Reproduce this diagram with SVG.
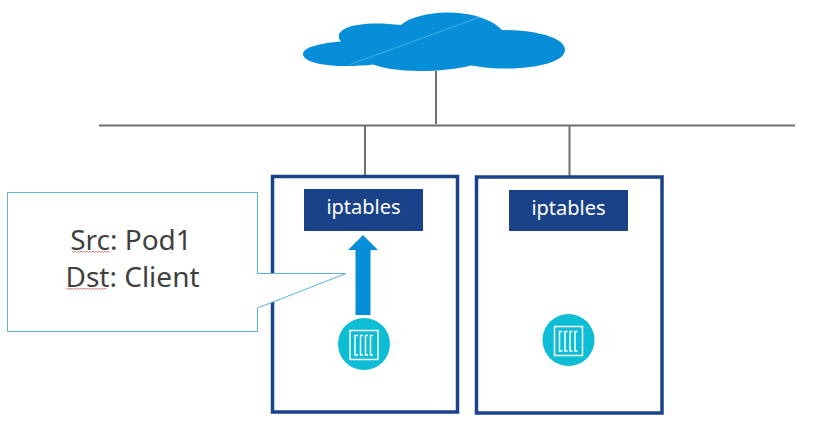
<svg xmlns="http://www.w3.org/2000/svg" width="828" height="429" viewBox="0 0 828 429">
<style>
.wire{stroke:#6f6f6f;stroke-width:2;fill:none}
.frame{fill:#fff;stroke:#1a4288;stroke-width:3.500}
.bar{fill:#1a4288}
.bartxt{font-family:"Noto Sans","DejaVu Sans",sans-serif;font-size:20px;fill:#fff;text-anchor:middle}
.call{font-family:"Noto Sans","DejaVu Sans",sans-serif;font-size:28px;fill:#404040;text-anchor:middle}
.pod{fill:#0dbdd6}
.ico{fill:none;stroke:#fff;stroke-width:1.500}
.sq{fill:none;stroke:#e06060;stroke-width:.8}
</style>
<rect width="828" height="429" fill="#fff"/>
<g id="connectors">
<path class="wire" d="M99 125.500H795M436 71V124M365 125V176M569.500 125V177"/>
</g>
<g id="cloud">
<path fill="#068ed9" d="M303 54C303 47 322 43 341 41.500C336 36 339 29 354 25.500C368 22.500 385 23 401 25C410 17 430 12 450 12.500C473 13 493 20 502 30C530 30 565 36 565 50C565 62 535 69 503 68.500C490 68.500 480 67 471 65.500C455 70 425 72 405 70.500C392 69.500 381 67.500 373 64.500C360 66 345 66.500 332 65.500C315 64 303 60 303 54Z"/>
<path fill="none" stroke="#5cb8ee" stroke-width=".8" d="M350 64.500L480 17"/>
</g>
<g id="node-left">
<rect class="frame" x="272.500" y="176.500" width="185" height="235.500"/>
<rect class="bar" x="304" y="189" width="119" height="42"/>
<text class="bartxt" x="363.500" y="214">iptables</text>
</g>
<g id="node-right">
<rect class="frame" x="476.500" y="177" width="185.500" height="236"/>
<rect class="bar" x="509" y="190" width="119" height="41"/>
<text class="bartxt" x="568.500" y="215">iptables</text>
</g>
<g id="arrow">
<path fill="#068ed9" d="M363 235L378 250H370.500V315H355.500V250H348Z"/>
</g>
<g id="pod-left">
<circle class="pod" cx="364" cy="344" r="26"/>
<rect class="ico" x="350" y="330.500" width="28" height="29"/>
<path class="ico" d="M358 335.500H355V355H358M363 335.500H360.500V355H363M368 335.500H365.500V355H368M373 335.500H370.500V355H373"/>
</g>
<g id="pod-right">
<circle class="pod" cx="568.500" cy="340" r="26"/>
<rect class="ico" x="554.500" y="326.500" width="28" height="29"/>
<path class="ico" d="M562.500 331.500H559.500V351H562.500M567.500 331.500H565V351H567.500M572.500 331.500H570V351H572.500M577.500 331.500H575V351H577.500"/>
</g>
<g id="callout">
<path fill="#fff" stroke="#5fb2d8" stroke-width="1" d="M7.500 192.500H257.500V273.500H346L257.500 308V331.500H7.500Z"/>
<text class="call" x="131" y="250">Src: Pod1</text>
<text class="call" x="132.500" y="287">Dst: Client</text>
<path class="sq" d="M72 251l1.500 1.500 1.500-1.500 1.500 1.500 1.500-1.500 1.500 1.500 1.500-1.500 1.500 1.500 1.500-1.500 1.500 1.500 1.500-1.500 1.500 1.500 1.500-1.500 1.500 1.500 1.500-1.500 1.500 1.500 1.500-1.500 1.500 1.500 1.500-1.500 1.500 1.500 1.500-1.500 1.500 1.500 1.500-1.500 1.500 1.500 1.500-1.500 1.500 1.500"/>
<path class="sq" d="M66 288l1.500 1.500 1.500-1.500 1.500 1.500 1.500-1.500 1.500 1.500 1.500-1.500 1.500 1.500 1.500-1.500 1.500 1.500 1.500-1.500 1.500 1.500 1.500-1.500 1.500 1.500 1.500-1.500 1.500 1.500 1.500-1.500 1.500 1.500 1.500-1.500 1.500 1.500 1.500-1.500 1.500 1.500 1.500-1.500 1.500 1.500 1.500-1.500 1.500 1.500 1.500-1.500 1.500 1.500"/>
</g>
</svg>
